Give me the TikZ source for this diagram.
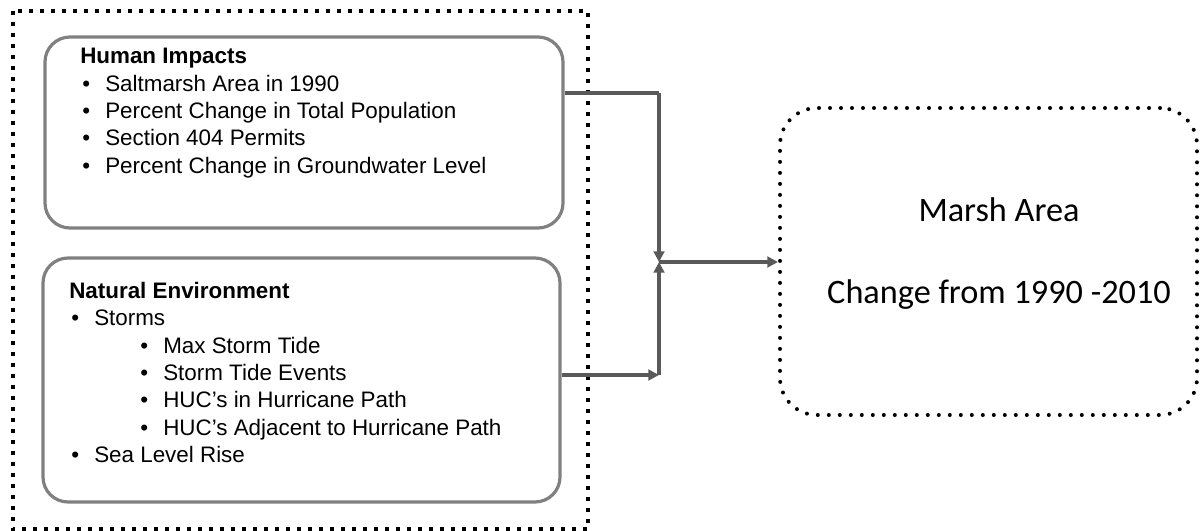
\documentclass[tikz,border=0pt]{standalone}
\usepackage{fontspec}
\setmainfont{Liberation Sans}
\newfontfamily\calib{Carlito}
\usetikzlibrary{arrows.meta}
\definecolor{boxgray}{HTML}{808080}
\definecolor{arrgray}{HTML}{595959}
\newcommand{\lvlone}[1]{\hspace*{1.5pt}\makebox[17.25pt][l]{\textbullet}#1}
\newcommand{\lvltwo}[1]{\hspace*{53.25pt}\makebox[17.25pt][l]{\textbullet}#1}
\tikzset{
  groupbox/.style={draw=boxgray,line width=2.4pt,rounded corners=18.75pt,inner sep=0pt},
  listtext/.style={anchor=north west,align=left,inner sep=0pt,font=\fontsize{16.8}{20.5}\selectfont},
  marshtext/.style={anchor=base,inner sep=0pt,font=\calib\fontsize{25.7}{30}\selectfont},
  link/.style={draw=arrgray,line width=2.4pt},
  linkarr/.style={link,-{Triangle[length=8pt,width=8pt]}}
}
\begin{document}
\begin{tikzpicture}[x=0.75pt,y=-0.75pt]
            \useasboundingbox (0,0) rectangle (1201,531);
            % outer frame
            \draw[line width=3pt,dash pattern=on 3pt off 5.25pt] (12.5,10.7) rectangle (588,529);
            % two input boxes
            \node[groupbox,minimum width=388.5pt,minimum height=143.25pt] (hum) at (304,132.5) {};
            \node[groupbox,minimum width=387.75pt,minimum height=183pt] (nat) at (301.5,380) {};
            \node[listtext] (humtxt) at (80,48) {\textbf{Human Impacts}\\
                \lvlone{Saltmarsh Area in 1990}\\
                \lvlone{Percent Change in Total Population}\\
                \lvlone{Section 404 Permits}\\
                \lvlone{Percent Change in Groundwater Level}};
            \node[listtext] (nattxt) at (69,282) {\textbf{Natural Environment}\\
                \lvlone{Storms}\\
                \lvltwo{Max Storm Tide}\\
                \lvltwo{Storm Tide Events}\\
                \lvltwo{HUC’s in Hurricane Path}\\
                \lvltwo{HUC’s Adjacent to Hurricane Path}\\
                \lvlone{Sea Level Rise}};
            % result box
            \node[draw,line width=3pt,dash pattern=on 0pt off 8.25pt,line cap=round,
                rounded corners=27.75pt,minimum width=312.75pt,minimum height=230.25pt,inner sep=0pt]
                (marsh) at (988.5,261.5) {};
            \node[marshtext] (mtitle) at (999,221) {Marsh Area};
            \node[marshtext] (mchange) at (999,303) {Change from 1990 -2010};
            % connectors
            \coordinate (tj) at (659,93);
            \coordinate (bj) at (659,375);
            \coordinate (j) at (659,262);
            \draw[link] (hum.east |- tj) -- (tj);
            \draw[linkarr] (tj) -- (j);
            \draw[linkarr] (nat.east |- bj) -- (bj);
            \draw[linkarr] (bj) -- (j);
            \draw[linkarr] (j) -- (marsh.west |- j);
        \end{tikzpicture}
\end{document}
